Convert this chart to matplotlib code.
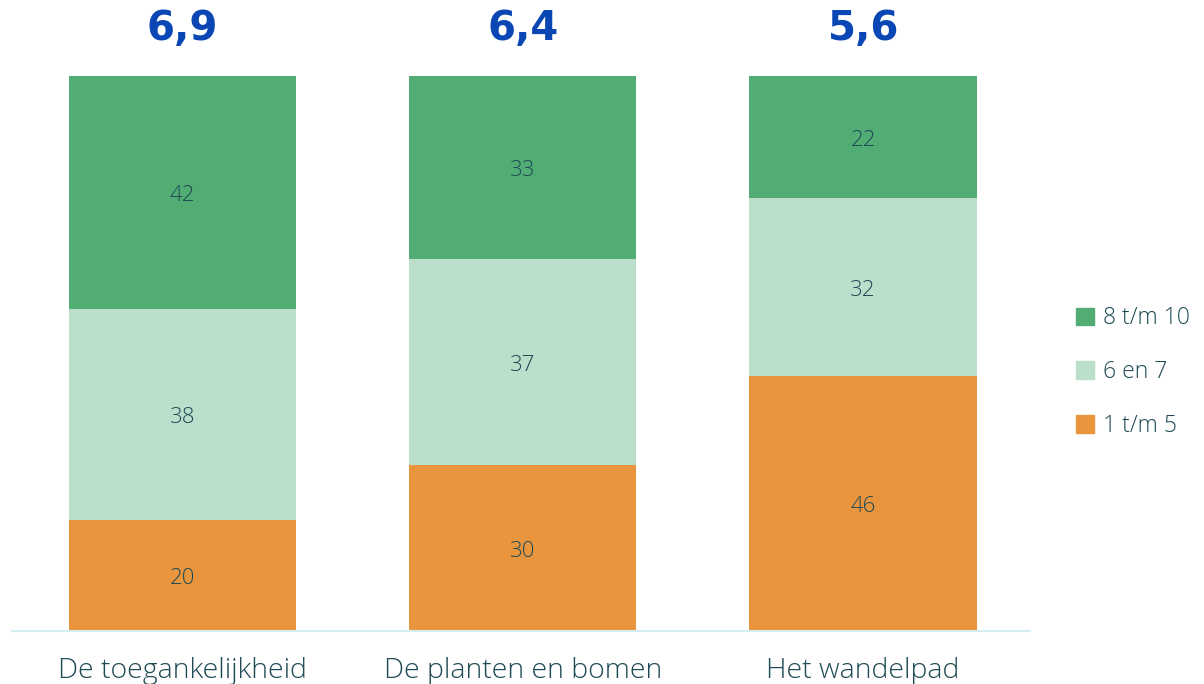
import numpy as np
import matplotlib.pyplot as plt
from matplotlib.patches import Patch

categories = ["De toegankelijkheid", "De planten en bomen", "Het wandelpad"]
laag = [20, 30, 46]      # 1 t/m 5
midden = [38, 37, 32]    # 6 en 7
hoog = [42, 33, 22]      # 8 t/m 10
gemiddelde = ["6,9", "6,4", "5,6"]

series = [("1 t/m 5", laag, "#E9953E"),
          ("6 en 7", midden, "#BBDFCA"),
          ("8 t/m 10", hoog, "#52AD75")]

plt.rcParams['font.family'] = ['Open Sans', 'DejaVu Sans']
tekst = "#1E4A55"

fig = plt.figure(figsize=(12.04, 6.84), dpi=100)
ax = fig.add_axes([12 / 1204, 53 / 684, 1018 / 1204, 555 / 684])

x = np.arange(len(categories))
onder = np.zeros(len(categories))
for naam, waarden, kleur in series:
    ax.bar(x, waarden, 0.668, bottom=onder, color=kleur, label=naam)
    for xi, b, v in zip(x, onder, waarden):
        ax.text(xi, b + v / 2 - 0.6, str(v), ha="center", va="center",
                fontsize=16, color=tekst, fontweight="light")
    onder += np.array(waarden)

for xi, g in zip(x, gemiddelde):
    ax.text(xi, 108.5, g, ha="center", va="center", fontsize=29,
            fontweight="bold", color="#0A47B5", clip_on=False,
            family=["DejaVu Sans"])

ax.set_xlim(-0.5, 2.49)
ax.set_ylim(0, 100)
ax.set_xticks(x)
ax.set_xticklabels(categories, fontsize=20.5, color=tekst, fontweight="light")
ax.tick_params(axis="x", length=0, pad=19)
ax.set_yticks([])
for s in ["top", "right", "left"]:
    ax.spines[s].set_visible(False)
ax.spines["bottom"].set_color("#D3EDF1")
ax.spines["bottom"].set_linewidth(1.5)

handles = [Patch(color=k, label=n) for n, _, k in reversed(series)]
leg = fig.legend(handles=handles, loc="center left", bbox_to_anchor=(1055 / 1204, 0.456),
                 frameon=False, handlelength=0.8, handleheight=0.8,
                 handletextpad=0.4, labelspacing=1.3, labelcolor=tekst,
                 prop={"weight": "light", "size": 16.5})

fig.savefig("out.png", dpi=100)
